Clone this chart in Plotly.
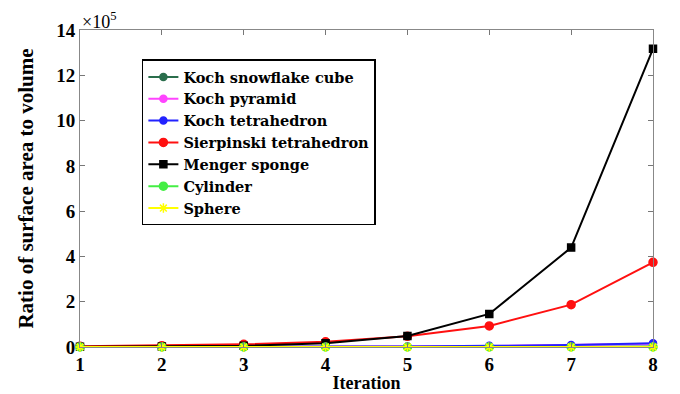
import plotly.graph_objects as go

iterations = [1, 2, 3, 4, 5, 6, 7, 8]
# values in units of 1e5
koch_snowflake_cube = [0.0, 0.0, 0.0, 0.0, 0.0, 0.0, 0.01, 0.02]
koch_pyramid = [0.0, 0.0, 0.0, 0.01, 0.02, 0.04, 0.08, 0.14]
koch_tetrahedron = [0.0, 0.0, 0.0, 0.01, 0.02, 0.05, 0.09, 0.17]
sierpinski_tetrahedron = [0.03, 0.06, 0.12, 0.23, 0.47, 0.93, 1.87, 3.74]
menger_sponge = [0.006, 0.018, 0.054, 0.163, 0.49, 1.46, 4.39, 13.17]
cylinder = [0.0, 0.0, 0.0, 0.0, 0.0, 0.0, 0.0, 0.0]
sphere = [0.0, 0.0, 0.0, 0.0, 0.0, 0.0, 0.0, 0.0]

series = [
    ("Koch snowflake cube", koch_snowflake_cube, "#2a6e4c", "circle", 7),
    ("Koch pyramid", koch_pyramid, "#ff44ff", "circle", 7),
    ("Koch tetrahedron", koch_tetrahedron, "#2222ff", "circle", 7),
    ("Sierpinski tetrahedron", sierpinski_tetrahedron, "#ff1010", "circle", 8),
    ("Menger sponge", menger_sponge, "#000000", "square", 7),
    ("Cylinder", cylinder, "#44ee44", "circle", 8),
    ("Sphere", sphere, "#ffff00", "asterisk-open", 8),
]

FONT = "Times New Roman"
LEGFONT = "DejaVu Serif"

fig = go.Figure()
for name, vals, color, sym, size in series:
    fig.add_trace(go.Scatter(
        x=iterations, y=vals, name=name, mode="lines+markers",
        line=dict(color=color, width=2),
        marker=dict(symbol=sym, size=size, color=color,
                    line=dict(color=color, width=1.5)),
        cliponaxis=False,
    ))

fig.update_layout(
    width=680, height=394,
    margin=dict(l=72, r=35, t=15, b=55),
    paper_bgcolor="white", plot_bgcolor="white",
    font=dict(family=FONT, size=16, color="black", weight="bold"),
    showlegend=True,
    legend=dict(
        x=0.108, y=0.907, xanchor="left", yanchor="top",
        bgcolor="white", bordercolor="black", borderwidth=1.5,
        font=dict(family=LEGFONT, size=14.5, color="black", weight="bold"),
        tracegroupgap=0, itemwidth=30,
    ),
    xaxis=dict(
        range=[1, 8], tickmode="array", tickvals=iterations,
        ticks="inside", ticklen=5, tickcolor="#777", mirror="ticks",
        showline=True, linecolor="#888", linewidth=1, showgrid=False,
        zeroline=False,
        title=dict(text="Iteration", standoff=2,
                   font=dict(family=FONT, size=18, weight="bold")),
        tickfont=dict(family=FONT, size=19, weight="bold"),
    ),
    yaxis=dict(
        range=[0, 14], tickmode="array", tickvals=list(range(0, 15, 2)),
        ticks="inside", ticklen=5, tickcolor="#777", mirror="ticks",
        showline=True, linecolor="#888", linewidth=1, showgrid=False,
        zeroline=False,
        title=dict(text="Ratio of surface area to volume", standoff=16,
                   font=dict(family=FONT, size=21, weight="bold")),
        tickfont=dict(family=FONT, size=19, weight="bold"),
    ),
    annotations=[dict(
        text="×10<sup>5</sup>", xref="paper", yref="paper",
        x=0.0, y=1.0, xanchor="left", yanchor="bottom", showarrow=False,
        font=dict(family=FONT, size=18, weight="normal", color="black"),
        yshift=-4,
    )],
)

fig.write_html("out.html")
